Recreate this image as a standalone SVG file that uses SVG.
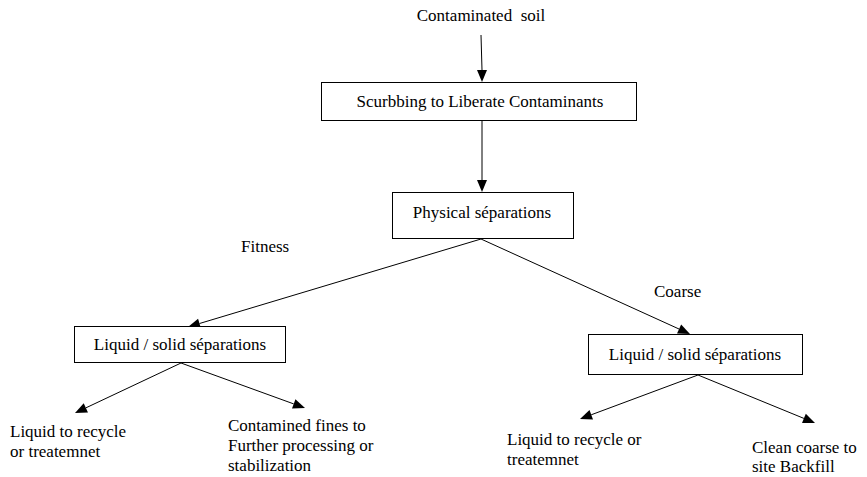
<svg xmlns="http://www.w3.org/2000/svg" width="867" height="477" viewBox="0 0 867 477">
<style>
.box{fill:#fff;stroke:#000;stroke-width:1}
.ln{stroke:#000;stroke-width:1;fill:none}
.ah{fill:#000;stroke:none}
</style>
<rect width="867" height="477" fill="#fff"/>
<g id="connectors">
<line class="ln" x1="481" y1="35" x2="482" y2="70"/>
<polygon class="ah" points="482,82 477,70 487,70"/>
<line class="ln" x1="482" y1="120" x2="482" y2="180"/>
<polygon class="ah" points="482,192 477,180 487,180"/>
<line class="ln" x1="481" y1="239" x2="199.5" y2="323.5"/>
<polygon class="ah" points="188,327 198.06,318.76 200.93,328.34"/>
<line class="ln" x1="481" y1="239" x2="679" y2="329"/>
<polygon class="ah" points="690,334 677.01,333.58 681.15,324.48"/>
<line class="ln" x1="181" y1="363" x2="85.8" y2="407.9"/>
<polygon class="ah" points="75,413 83.72,403.36 87.98,412.40"/>
<line class="ln" x1="181" y1="363" x2="293.7" y2="403.9"/>
<polygon class="ah" points="305,408 292.01,408.61 295.43,399.21"/>
<line class="ln" x1="698" y1="375" x2="591.2" y2="414.8"/>
<polygon class="ah" points="580,419 589.5,410.12 593.0,419.5"/>
<line class="ln" x1="698" y1="375" x2="803.9" y2="418.4"/>
<polygon class="ah" points="815,423 802.0,423.07 805.8,413.83"/>
</g>
<g id="label-fitness"><text font-family="Liberation Serif, serif" font-size="17" x="241" y="252">Fitness</text></g>
<g id="label-coarse"><text font-family="Liberation Serif, serif" font-size="17" x="654" y="297">Coarse</text></g>
<g id="n-soil"><text font-family="Liberation Serif, serif" font-size="17" text-anchor="middle" x="481" y="21">Contaminated&#160; soil</text></g>
<g id="n-scrub"><rect class="box" x="321.5" y="82.5" width="315" height="38"/><text font-family="Liberation Serif, serif" font-size="17" text-anchor="middle" x="480" y="107">Scurbbing to Liberate Contaminants</text></g>
<g id="n-phys"><rect class="box" x="392.5" y="192.5" width="181" height="46"/><text font-family="Liberation Serif, serif" font-size="17" text-anchor="middle" x="482" y="218">Physical séparations</text></g>
<g id="n-ls1"><rect class="box" x="74.5" y="326.5" width="211" height="36"/><text font-family="Liberation Serif, serif" font-size="17" text-anchor="middle" x="180" y="350">Liquid / solid séparations</text></g>
<g id="n-ls2"><rect class="box" x="588.5" y="334.5" width="214" height="40"/><text font-family="Liberation Serif, serif" font-size="17" text-anchor="middle" x="695" y="360">Liquid / solid séparations</text></g>
<g id="n-liq1"><text font-family="Liberation Serif, serif" font-size="17" x="10" y="437">Liquid to recycle</text><text font-family="Liberation Serif, serif" font-size="17" x="10" y="457">or treatemnet</text></g>
<g id="n-fines"><text font-family="Liberation Serif, serif" font-size="17" x="228" y="431">Contamined fines to</text><text font-family="Liberation Serif, serif" font-size="17" x="228" y="451">Further processing or</text><text font-family="Liberation Serif, serif" font-size="17" x="228" y="471">stabilization</text></g>
<g id="n-liq2"><text font-family="Liberation Serif, serif" font-size="17" x="507" y="445">Liquid to recycle or</text><text font-family="Liberation Serif, serif" font-size="17" x="507" y="465">treatemnet</text></g>
<g id="n-clean"><text font-family="Liberation Serif, serif" font-size="17" x="752" y="453">Clean coarse to</text><text font-family="Liberation Serif, serif" font-size="17" x="752" y="472">site Backfill</text></g>
</svg>
